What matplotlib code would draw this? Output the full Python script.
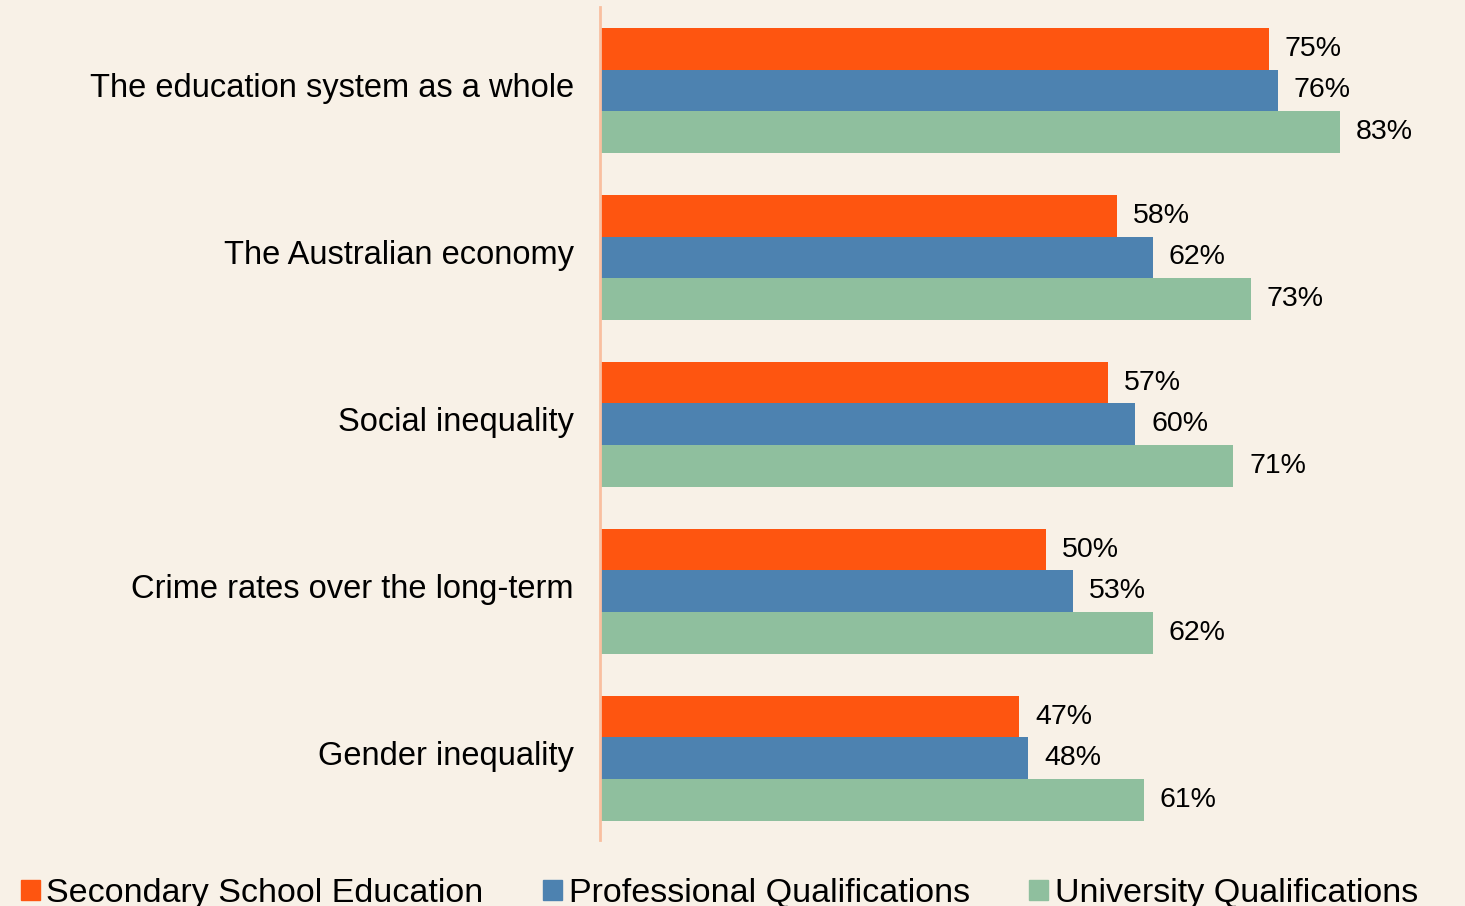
import matplotlib
matplotlib.use("Agg")
import matplotlib.pyplot as plt
import matplotlib.patches as mpatches
import matplotlib.transforms as mtransforms
import numpy as np

categories = [
    "The education system as a whole",
    "The Australian economy",
    "Social inequality",
    "Crime rates over the long-term",
    "Gender inequality",
]
secondary = [75, 58, 57, 50, 47]
professional = [76, 62, 60, 53, 48]
university = [83, 73, 71, 62, 61]
series_names = ["Secondary School Education", "Professional Qualifications", "University Qualifications"]

bg = "#F8F1E7"
colors = ["#FE5510", "#4D82B0", "#8FBF9E"]

plt.rcParams["font.family"] = ["Liberation Sans", "DejaVu Sans"]

fig = plt.figure(figsize=(14.65, 9.06), dpi=100, facecolor=bg)
ax = fig.add_axes([0.4096, 0.0728, 0.5904, 0.9195])
ax.set_facecolor(bg)

y = np.arange(len(categories))
h = 0.25
for i, (vals, col) in enumerate(zip([secondary, professional, university], colors)):
    bars = ax.barh(y - h + i * h, vals, height=h, color=col, edgecolor="none")
    ax.bar_label(bars, labels=[f"{v}%" for v in vals], padding=11.5, fontsize=20.5)

ax.set_xlim(0, 97)
ax.set_ylim(4.49, -0.5)
ax.set_yticks(y)
ax.set_yticklabels(categories, fontsize=23.5)
ax.tick_params(axis="y", length=0, pad=19)
# labels sit a little above the group centre
shift = mtransforms.ScaledTranslation(0, 0.05, fig.dpi_scale_trans)
for lab in ax.get_yticklabels():
    lab.set_transform(lab.get_transform() + shift)
ax.set_xticks([])
for s in ["top", "right", "bottom"]:
    ax.spines[s].set_visible(False)
ax.spines["left"].set_color("#F9BFA0")
ax.spines["left"].set_linewidth(2)

handles = [mpatches.Patch(color=c, label=n) for c, n in zip(colors, series_names)]
fig.legend(handles=handles, loc="center left", bbox_to_anchor=(0.005, 0.014), ncol=3,
           frameon=False, fontsize=24.5, handlelength=0.55, handleheight=0.55,
           handletextpad=0.2, columnspacing=1.75, borderaxespad=0)

fig.savefig("out.png", dpi=100, facecolor=bg)
